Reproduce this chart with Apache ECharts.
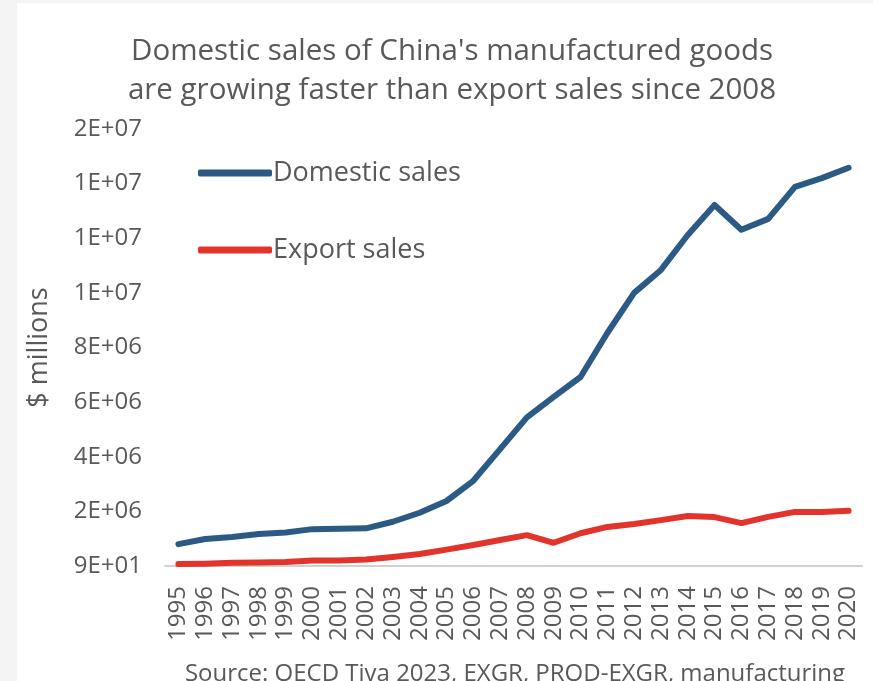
<!DOCTYPE html>
<html>
<head>
<meta charset="utf-8">
<script src="https://cdn.jsdelivr.net/npm/echarts@6/dist/echarts.min.js"></script>
<style>
  html, body { margin: 0; padding: 0; background: #ffffff; }
  #chart { width: 873px; height: 681px; }
</style>
</head>
<body>
<div id="chart"></div>
<script>
// Years on the category axis
const years = ['1995','1996','1997','1998','1999','2000','2001','2002','2003','2004',
  '2005','2006','2007','2008','2009','2010','2011','2012','2013','2014',
  '2015','2016','2017','2018','2019','2020'];

// Manufacturing sales, $ millions
const domesticSales = [800000, 990000, 1060000, 1170000, 1230000, 1350000, 1360000, 1380000, 1620000, 1950000,
  2380000, 3120000, 4280000, 5440000, 6190000, 6920000, 8530000, 10000000, 10840000, 12120000,
  13220000, 12310000, 12710000, 13880000, 14200000, 14580000];
const exportSales = [70000, 85000, 115000, 130000, 150000, 200000, 200000, 240000, 330000, 440000,
  600000, 770000, 950000, 1130000, 850000, 1200000, 1430000, 1540000, 1680000, 1830000,
  1790000, 1570000, 1800000, 1980000, 1980000, 2020000];

// Value-axis tick labels, bottom to top
const yTickLabels = ['9E+01','2E+06','4E+06','6E+06','8E+06','1E+07','1E+07','1E+07','2E+07'];

const seriesNames = ['Domestic sales', 'Export sales'];
const titleText = "Domestic sales of China's manufactured goods\nare growing faster than export sales since 2008";
const sourceText = 'Source: OECD Tiva 2023, EXGR, PROD-EXGR, manufacturing';

const FONT = '"Open Sans", Roboto, sans-serif';
const GREY = '#595959';
const BLUE = '#2b5b84';
const RED = '#e3342b';

const chart = echarts.init(document.getElementById('chart'));
chart.setOption({
  backgroundColor: '#ffffff',
  animation: false,
  textStyle: { fontFamily: FONT },
  title: {
    text: titleText,
    left: 447,
    top: 27,
    textAlign: 'center',
    textStyle: { fontFamily: FONT, fontSize: 29.5, fontWeight: 'normal', color: GREY, lineHeight: 39 }
  },
  legend: {
    data: seriesNames,
    orient: 'vertical',
    left: 193,
    top: 154,
    icon: 'roundRect',
    itemWidth: 74,
    itemHeight: 7,
    itemGap: 49,
    textStyle: { fontFamily: FONT, fontSize: 27, color: GREY, lineHeight: 28, padding: [0, 0, 0, -4] }
  },
  grid: { left: 165, right: 11, top: 129, bottom: 115, containLabel: false },
  xAxis: {
    type: 'category',
    data: years,
    boundaryGap: true,
    axisLine: { lineStyle: { color: '#d0d0d0', width: 2 } },
    axisTick: { show: false },
    axisLabel: { rotate: 90, fontSize: 24, color: GREY, margin: 20, interval: 0, fontFamily: FONT }
  },
  yAxis: {
    type: 'value',
    min: 0,
    max: 16000000,
    interval: 2000000,
    name: '$ millions',
    nameLocation: 'middle',
    nameRotate: 90,
    nameGap: 112,
    nameTextStyle: { fontSize: 27, color: GREY, fontFamily: FONT },
    splitLine: { show: false },
    axisLine: { show: false },
    axisTick: { show: false },
    axisLabel: {
      fontSize: 24, color: GREY, margin: 23, fontFamily: FONT,
      formatter: function (v) { return yTickLabels[Math.round(v / 2000000)]; }
    }
  },
  graphic: [
    { type: 'rect', left: 0, top: 0, z: -10, shape: { width: 17, height: 681 }, style: { fill: '#f4f4f4' } },
    { type: 'rect', left: 0, top: 0, z: -10, shape: { width: 873, height: 3 }, style: { fill: '#f4f4f4' } },
    {
      type: 'text', x: 515, y: 674, z: 10,
      style: {
        text: sourceText, fontSize: 24, fill: GREY, fontFamily: FONT,
        align: 'center', verticalAlign: 'middle', textAlign: 'center', textVerticalAlign: 'middle'
      }
    }
  ],
  series: [
    {
      name: seriesNames[0], type: 'line', data: domesticSales, symbol: 'none',
      itemStyle: { color: BLUE },
      lineStyle: { color: BLUE, width: 6, cap: 'round', join: 'round' }
    },
    {
      name: seriesNames[1], type: 'line', data: exportSales, symbol: 'none',
      itemStyle: { color: RED },
      lineStyle: { color: RED, width: 6, cap: 'round', join: 'round' }
    }
  ]
});
</script>
</body>
</html>
